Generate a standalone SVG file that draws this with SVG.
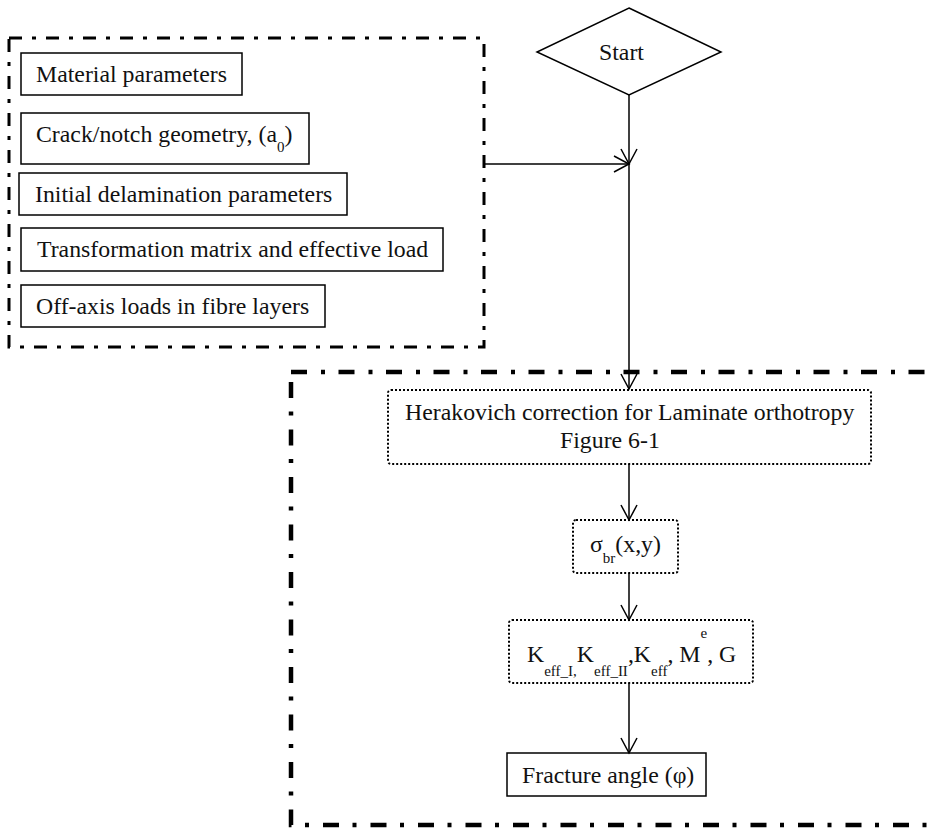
<svg xmlns="http://www.w3.org/2000/svg" width="934" height="829" viewBox="0 0 934 829">
<style>
  .t { font-family: "Liberation Serif", "Times New Roman", serif; font-size: 23.8px; fill: #111; }
  .s { font-size: 15px; }
  .box { fill: none; stroke: #000; stroke-width: 1.5; }
  .dot { fill: none; stroke: #000; stroke-width: 2; stroke-dasharray: 2 2; }
  .grp1 { fill: none; stroke: #000; stroke-width: 3; stroke-dasharray: 13 10 4 10; }
  .grp2 { fill: none; stroke: #000; stroke-width: 4.5; stroke-dasharray: 16 14 4 13.5; }
  .conn { fill: none; stroke: #000; stroke-width: 1.5; marker-end: url(#arr); }
</style>
<defs>
  <marker id="arr" markerUnits="userSpaceOnUse" markerWidth="20" markerHeight="20" viewBox="-17 -10 20 20" refX="0" refY="0" orient="auto">
    <path d="M-15,-8 L0,0 L-15,8" fill="none" stroke="#000" stroke-width="1.5"/>
  </marker>
</defs>
<rect width="934" height="829" fill="#fff"/>

<g id="group-inputs">
  <rect class="grp1" x="9" y="38" width="475" height="309"/>
</g>
<g id="group-analysis">
  <rect class="grp2" x="291" y="372" width="700" height="453"/>
</g>

<g id="start">
  <polygon class="box" points="629,8 721,52 629,95 537,52"/>
  <text class="t" x="599" y="60">Start</text>
</g>

<g id="material">
  <rect class="box" x="21" y="53" width="221" height="42"/>
  <text class="t" x="36" y="82">Material parameters</text>
</g>
<g id="crack">
  <rect class="box" x="21" y="113" width="288" height="51"/>
  <text class="t" x="36" y="142">Crack/notch geometry, (a<tspan class="s" dy="10">0</tspan><tspan dy="-10">)</tspan></text>
</g>
<g id="delamination">
  <rect class="box" x="19" y="173" width="328" height="42"/>
  <text class="t" x="35" y="202">Initial delamination parameters</text>
</g>
<g id="transformation">
  <rect class="box" x="21" y="228" width="422" height="43"/>
  <text class="t" x="37" y="257">Transformation matrix and effective load</text>
</g>
<g id="offaxis">
  <rect class="box" x="21" y="285" width="304" height="42"/>
  <text class="t" x="36" y="314">Off-axis loads in fibre layers</text>
</g>

<g id="herakovich">
  <rect class="dot" x="388" y="390" width="483" height="74" rx="3"/>
  <text class="t" x="405" y="420">Herakovich correction for Laminate orthotropy</text>
  <text class="t" x="560" y="448">Figure 6-1</text>
</g>
<g id="sigma">
  <rect class="dot" x="573" y="520" width="105" height="53" rx="3"/>
  <text class="t" x="590" y="552">σ<tspan class="s" dy="11">br</tspan><tspan dy="-11">(x,y)</tspan></text>
</g>
<g id="kfactors">
  <rect class="dot" x="509" y="620" width="244" height="63" rx="3"/>
  <text class="t" x="527" y="662">K<tspan class="s" dy="14">eff_I,</tspan><tspan dy="-14">K</tspan><tspan class="s" dy="14">eff_II</tspan><tspan dy="-14">,K</tspan><tspan class="s" dy="14">eff</tspan><tspan dy="-14">, M</tspan><tspan class="s" dy="-24">e</tspan><tspan dy="24">, G</tspan></text>
</g>
<g id="fracture">
  <rect class="box" x="507" y="753" width="199" height="43"/>
  <text class="t" x="522" y="783">Fracture angle (φ)</text>
</g>

<g id="connectors">
  <line class="conn" x1="629" y1="95" x2="629" y2="164"/>
  <line class="conn" x1="485" y1="164" x2="629" y2="164"/>
  <line class="conn" x1="629" y1="164" x2="629" y2="389"/>
  <line class="conn" x1="629" y1="464" x2="629" y2="520"/>
  <line class="conn" x1="629" y1="573" x2="629" y2="620"/>
  <line class="conn" x1="629" y1="683" x2="629" y2="753"/>
</g>
</svg>
